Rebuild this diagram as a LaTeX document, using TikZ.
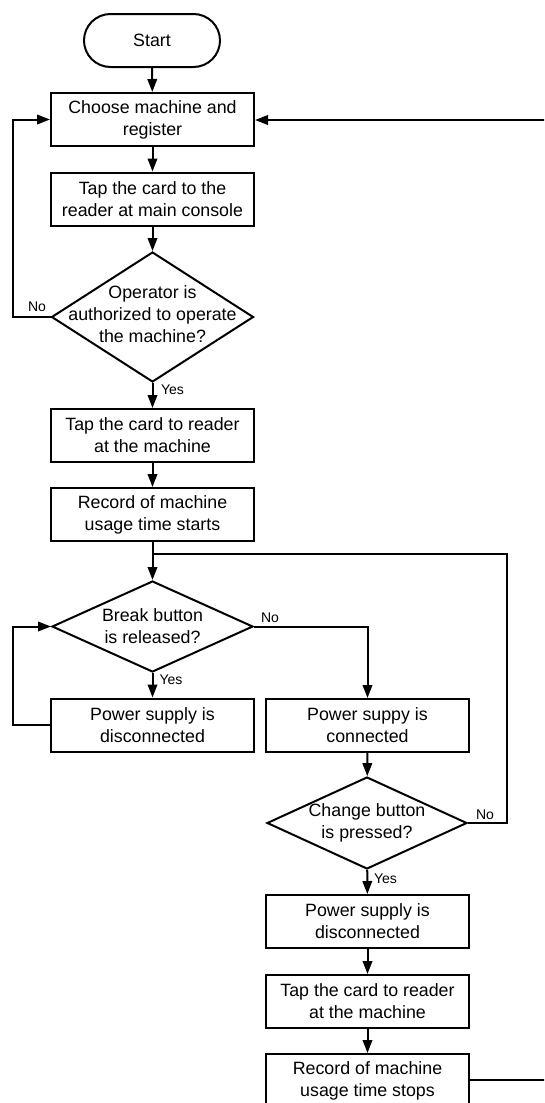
\documentclass[tikz,border=0pt]{standalone}
\usepackage{fontspec}
\setmainfont{Liberation Sans}
\usetikzlibrary{arrows.meta,shapes.geometric}

\tikzset{
  line/.style={line width=2pt, line join=miter},
  arr/.style={line, -{Triangle[length=13pt,width=9.5pt]}},
  proc/.style={draw, line width=2pt, rectangle, minimum width=203pt, minimum height=53pt,
    align=center, inner sep=0pt, font=\fontsize{17.8pt}{22pt}\selectfont},
  term/.style={draw, line width=2pt, rectangle, rounded corners=26.5pt, minimum width=136pt,
    minimum height=53pt, inner sep=0pt, font=\fontsize{17.8pt}{22pt}\selectfont},
  dec/.style={draw, line width=2pt, diamond, inner sep=0pt},
  dectext/.style={align=center, inner sep=0pt, font=\fontsize{17.8pt}{22pt}\selectfont},
  tag/.style={inner sep=0pt, font=\fontsize{14pt}{16pt}\selectfont},
}

\begin{document}
\begin{tikzpicture}[x=1pt,y=-1pt]
\useasboundingbox (0,0) rectangle (544,1103);
\clip (0,0) rectangle (544,1103);

% left column
\node[term] (start) at (152,40.5) {Start};
\node[proc] (choose) at (152.5,119.5) {Choose machine and\\register};
\node[proc] (tapmain) at (152.5,199) {Tap the card to the\\reader at main console};
\node[dec, minimum width=202pt, minimum height=130pt] (auth) at (152.5,317) {};
\node[dectext] (authtxt) at (152.5,314) {Operator is\\authorized to operate\\the machine?};
\node[proc] (tapon) at (152.5,435.5) {Tap the card to reader\\at the machine};
\node[proc] (recstart) at (152.5,514.5) {Record of machine\\usage time starts};
\coordinate (join) at (152.5,554);
\node[dec, minimum width=201pt, minimum height=91pt] (brk) at (152.5,626.5) {};
\node[dectext] (brktxt) at (152.5,626.5) {Break button\\is released?};
\node[proc] (offA) at (152.5,725) {Power supply is\\disconnected};

% right column
\node[proc] (onB) at (367.5,725.5) {Power suppy is\\connected};
\node[dec, minimum width=200pt, minimum height=92pt] (chg) at (367,823) {};
\node[dectext] (chgtxt) at (367,823) {Change button\\is pressed?};
\node[proc] (offB) at (367.5,921.5) {Power supply is\\disconnected};
\node[proc] (tapoff) at (367.5,1001.5) {Tap the card to reader\\at the machine};
\node[proc] (recstop) at (367.5,1080.5) {Record of machine\\usage time stops};

% loop corners
\coordinate (authL) at (13,317);
\coordinate (chooseL) at (13,119.5);
\coordinate (offAL) at (13,725);
\coordinate (brkL) at (13,626.5);
\coordinate (brkR) at (367.5,626.5);
\coordinate (chgR) at (507,823);
\coordinate (joinR) at (507,554);
\coordinate (stopR) at (560,1080);
\coordinate (backR) at (560,120);

% main flow
\draw[arr] (start) -- (choose);
\draw[arr] (choose) -- (tapmain);
\draw[arr] (tapmain) -- (auth);
\draw[arr] (auth) -- (tapon);
\draw[arr] (tapon) -- (recstart);
\draw[arr] (recstart) -- (brk);
\draw[arr] (brk) -- (offA);
\draw[arr] (brk.east) -- (brkR) -- (onB);
\draw[arr] (onB) -- (chg);
\draw[arr] (chg) -- (offB);
\draw[arr] (offB) -- (tapoff);
\draw[arr] (tapoff) -- (recstop);

% loops
\draw[arr] (auth.west) -- (authL) -- (chooseL) -- (choose.west);
\draw[arr] (offA.west) -- (offAL) -- (brkL) -- (brk.west);
\draw[line] (chg.east) -- (chgR) -- (joinR) -- (join);
\draw[arr] (recstop.east |- stopR) -- (stopR) -- (backR) -- (choose.east |- backR);

% branch labels
\node[tag] (lno1) at (37,307) {No};
\node[tag] (lyes1) at (172.5,390) {Yes};
\node[tag] (lno2) at (270,618) {No};
\node[tag] (lyes2) at (171,680) {Yes};
\node[tag] (lno3) at (485,815) {No};
\node[tag] (lyes3) at (385.5,879) {Yes};
\end{tikzpicture}
\end{document}
